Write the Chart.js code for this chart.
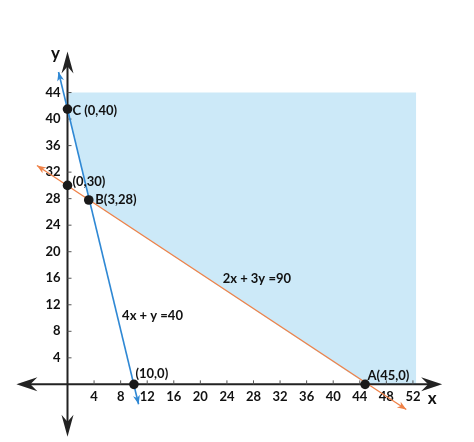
<!DOCTYPE html>
<html>
<head>
<meta charset="utf-8">
<script src="https://cdn.jsdelivr.net/npm/chart.js@4.4.1/dist/chart.umd.min.js"></script>
<style>
html,body{margin:0;padding:0;background:#fff;}
canvas{display:block;}
</style>
</head>
<body>
<canvas id="c" width="474" height="442"></canvas>
<script>
// ---- data ----
const xTicks = [4, 8, 12, 16, 20, 24, 28, 32, 36, 40, 44, 48, 52];
const yTicks = [4, 8, 12, 16, 20, 24, 28, 32, 36, 40, 44];
const feasibleX = [0, 3.2, 45, 52.5];
const feasibleY = [41.5, 27.8, 0, 0];
const feasibleTop = 44;
const line1X = [-1.35, 10.7];      // 4x + y = 40
const line1Y = [47.1, -3.0];
const line2X = [-4.6, 51];         // 2x + 3y = 90
const line2Y = [33, -3.8];
const cornerX = [0, 0, 3.2, 10, 44.8];
const cornerY = [41.5, 30, 27.8, 0, 0];
const cornerLabels = ['C (0,40)', '(0,30)', 'B(3,28)', '(10,0)', 'A(45,0)'];
const eqLabels = ['2x + 3y =90', '4x + y =40'];
const eqX = [28.5, 12.8];
const eqY = [15.9, 10.4];

const pts = (xs, ys) => xs.map((x, i) => ({x, y: ys[i]}));
const FONT = 'bold 13px Lato, sans-serif';
const AX = '#222222';

function stealth(ctx, tx, ty, ang, len, hw, notch, color) {
  ctx.save();
  ctx.translate(tx, ty);
  ctx.rotate(ang);
  ctx.beginPath();
  ctx.moveTo(0, 0);
  ctx.lineTo(-len, -hw);
  ctx.lineTo(-len + notch, 0);
  ctx.lineTo(-len, hw);
  ctx.closePath();
  ctx.fillStyle = color;
  ctx.fill();
  ctx.restore();
}

const axesPlugin = {
  id: 'axesPlugin',
  afterDatasetDraw(chart, args) {
    if (args.index !== 0) return;
    const ctx = chart.ctx, xs = chart.scales.x, ys = chart.scales.y;
    const x0 = xs.getPixelForValue(0), y0 = ys.getPixelForValue(0);
    const xL = xs.getPixelForValue(-7.7), xR = xs.getPixelForValue(56.4);
    const yT = ys.getPixelForValue(50.2), yB = ys.getPixelForValue(-7.9);
    ctx.save();
    ctx.strokeStyle = AX;
    ctx.lineWidth = 2;
    ctx.beginPath();
    ctx.moveTo(xL + 8, y0); ctx.lineTo(xR - 8, y0);
    ctx.moveTo(x0, yT + 8); ctx.lineTo(x0, yB - 8);
    ctx.stroke();
    stealth(ctx, xL, y0, Math.PI, 21, 7, 7, AX);
    stealth(ctx, xR, y0, 0, 21, 7, 7, AX);
    stealth(ctx, x0, yT, -Math.PI / 2, 22, 6, 7, AX);
    stealth(ctx, x0, yB, Math.PI / 2, 22, 6, 7, AX);
    // ticks
    ctx.lineWidth = 1;
    ctx.strokeStyle = '#555';
    ctx.beginPath();
    xTicks.forEach(v => { const p = xs.getPixelForValue(v); ctx.moveTo(p, y0 - 4); ctx.lineTo(p, y0); });
    yTicks.forEach(v => { const p = ys.getPixelForValue(v); ctx.moveTo(x0, p); ctx.lineTo(x0 + 4, p); });
    ctx.stroke();
    ctx.fillStyle = '#111';
    ctx.font = FONT;
    ctx.textAlign = 'center'; ctx.textBaseline = 'middle';
    xTicks.forEach(v => ctx.fillText(String(v), xs.getPixelForValue(v), y0 + 12));
    ctx.textAlign = 'right';
    yTicks.forEach(v => ctx.fillText(String(v), x0 - 7, ys.getPixelForValue(v)));
    ctx.font = 'bold 17px Lato, sans-serif';
    ctx.textAlign = 'center';
    ctx.fillText('y', x0 - 12, yT + 2);
    ctx.fillText('x', xR - 10, y0 + 14);
    ctx.restore();
  },
  afterDatasetsDraw(chart) {
    const ctx = chart.ctx, xs = chart.scales.x, ys = chart.scales.y;
    [1, 2].forEach(i => {
      const m = chart.getDatasetMeta(i).data;
      const col = chart.data.datasets[i].borderColor;
      const a = m[0], b = m[m.length - 1];
      const ang = Math.atan2(b.y - a.y, b.x - a.x);
      stealth(ctx, b.x, b.y, ang, 9, 3.5, 2.5, col);
      stealth(ctx, a.x, a.y, ang + Math.PI, 9, 3.5, 2.5, col);
    });
    ctx.save();
    ctx.fillStyle = '#111';
    ctx.font = FONT;
    ctx.textAlign = 'left'; ctx.textBaseline = 'middle';
    const offs = [[5, 2], [5, -3.5], [6.5, 0], [1.5, -11], [2.5, -9]];
    const m3 = chart.getDatasetMeta(3).data;
    cornerLabels.forEach((t, i) => {
      ctx.fillText(t, m3[i].x + offs[i][0], m3[i].y + offs[i][1]);
    });
    ctx.textAlign = 'center';
    eqLabels.forEach((t, i) => ctx.fillText(t, xs.getPixelForValue(eqX[i]), ys.getPixelForValue(eqY[i])));
    ctx.restore();
  }
};

const PX = 6.78, OX = 64, OY = 388, W = 474, H = 442;
new Chart(document.getElementById('c'), {
  type: 'scatter',
  data: {
    datasets: [
      { order: 10, data: pts(feasibleX, feasibleY), showLine: true, borderWidth: 0, pointRadius: 0,
        backgroundColor: '#cce9f8', fill: { value: feasibleTop } },
      { order: 5, data: pts(line1X, line1Y), showLine: true, borderColor: '#2f88d4', borderWidth: 1.6, pointRadius: 0, fill: false },
      { order: 5, data: pts(line2X, line2Y), showLine: true, borderColor: '#ef8248', borderWidth: 1.3, pointRadius: 0, fill: false },
      { order: 0, data: pts(cornerX, cornerY), showLine: false, pointRadius: 4.8, pointBackgroundColor: '#1a1a1a',
        pointBorderColor: '#1a1a1a', pointBorderWidth: 0 }
    ]
  },
  options: {
    responsive: false,
    animation: false,
    events: [],
    layout: { padding: 0 },
    plugins: { legend: { display: false }, tooltip: { enabled: false } },
    scales: {
      x: { type: 'linear', display: false, min: -OX / PX, max: (W - OX) / PX },
      y: { type: 'linear', display: false, min: -(H - OY) / PX, max: OY / PX }
    }
  },
  plugins: [axesPlugin]
});
</script>
</body>
</html>
